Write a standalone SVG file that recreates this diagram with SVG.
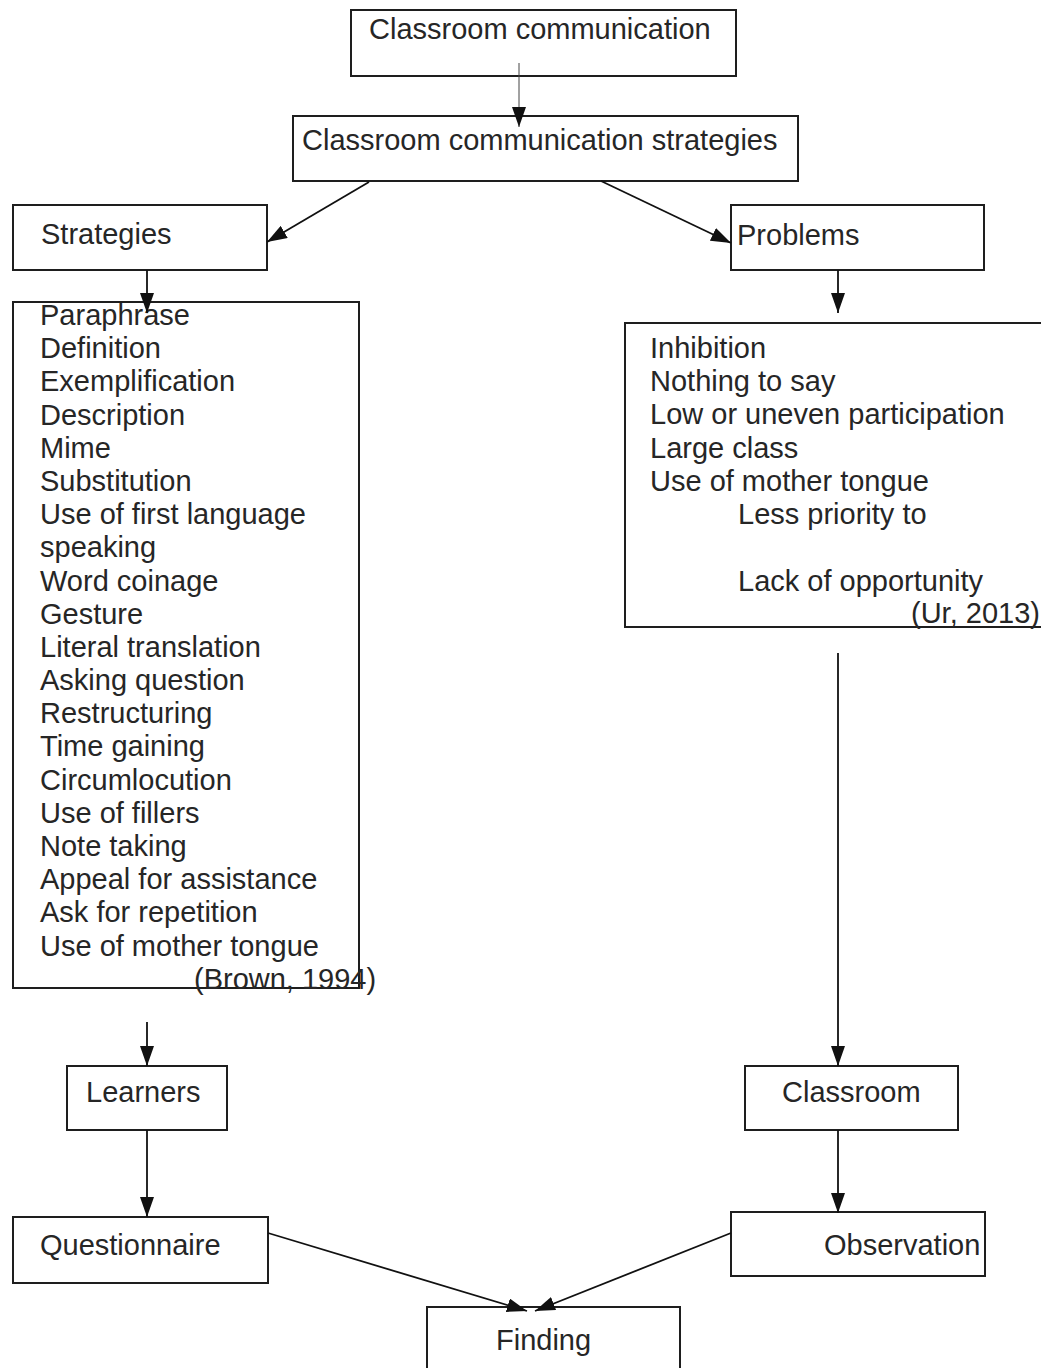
<svg xmlns="http://www.w3.org/2000/svg" width="1041" height="1368" viewBox="0 0 1041 1368">
<defs>
<marker id="ah" markerUnits="userSpaceOnUse" markerWidth="20" markerHeight="14" refX="20" refY="7" orient="auto">
<path d="M0,0 L20,7 L0,14 z" fill="#111"/>
</marker>
<style>
.box{fill:#fff;stroke:#1e1e1e;stroke-width:2}
.t{font-family:"Liberation Sans",Arial,sans-serif;font-size:29px;fill:#262626}
.c{stroke:#111;stroke-width:1.8;fill:none;marker-end:url(#ah)}
.thin{stroke:#444;stroke-width:1;fill:none;marker-end:url(#ah)}
</style>
</defs>
<rect width="1041" height="1368" fill="#fff"/>

<g id="n-classroom-communication">
<rect class="box" x="351" y="10" width="385" height="66"/>
<text class="t" x="369" y="39">Classroom communication</text>
</g>

<g id="n-strategies-top">
<rect class="box" x="293" y="116" width="505" height="65"/>
<text class="t" x="302" y="150">Classroom communication strategies</text>
</g>

<g id="n-strategies">
<rect class="box" x="13" y="205" width="254" height="65"/>
<text class="t" x="41" y="244">Strategies</text>
</g>

<g id="n-problems">
<rect class="box" x="731" y="205" width="253" height="65"/>
<text class="t" x="737" y="245">Problems</text>
</g>

<g id="n-strategy-list">
<rect class="box" x="13" y="302" width="346" height="686"/>
<text class="t" x="40" y="325">Paraphrase</text>
<text class="t" x="40" y="358">Definition</text>
<text class="t" x="40" y="391">Exemplification</text>
<text class="t" x="40" y="425">Description</text>
<text class="t" x="40" y="458">Mime</text>
<text class="t" x="40" y="491">Substitution</text>
<text class="t" x="40" y="524">Use of first language</text>
<text class="t" x="40" y="557">speaking</text>
<text class="t" x="40" y="591">Word coinage</text>
<text class="t" x="40" y="624">Gesture</text>
<text class="t" x="40" y="657">Literal translation</text>
<text class="t" x="40" y="690">Asking question</text>
<text class="t" x="40" y="723">Restructuring</text>
<text class="t" x="40" y="756">Time gaining</text>
<text class="t" x="40" y="790">Circumlocution</text>
<text class="t" x="40" y="823">Use of fillers</text>
<text class="t" x="40" y="856">Note taking</text>
<text class="t" x="40" y="889">Appeal for assistance</text>
<text class="t" x="40" y="922">Ask for repetition</text>
<text class="t" x="40" y="956">Use of mother tongue</text>
<text class="t" x="194" y="989">(Brown, 1994)</text>
</g>

<g id="n-problem-list">
<rect class="box" x="625" y="323" width="430" height="304"/>
<text class="t" x="650" y="358">Inhibition</text>
<text class="t" x="650" y="391">Nothing to say</text>
<text class="t" x="650" y="424">Low or uneven participation</text>
<text class="t" x="650" y="458">Large class</text>
<text class="t" x="650" y="491">Use of mother tongue</text>
<text class="t" x="738" y="524">Less priority to</text>
<text class="t" x="738" y="591">Lack of opportunity</text>
<text class="t" x="911" y="623">(Ur, 2013)</text>
</g>

<g id="n-learners">
<rect class="box" x="67" y="1066" width="160" height="64"/>
<text class="t" x="86" y="1102">Learners</text>
</g>

<g id="n-classroom">
<rect class="box" x="745" y="1066" width="213" height="64"/>
<text class="t" x="782" y="1102">Classroom</text>
</g>

<g id="n-questionnaire">
<rect class="box" x="13" y="1217" width="255" height="66"/>
<text class="t" x="40" y="1255">Questionnaire</text>
</g>

<g id="n-observation">
<rect class="box" x="731" y="1212" width="254" height="64"/>
<text class="t" x="824" y="1255">Observation</text>
</g>

<g id="n-finding">
<rect class="box" x="427" y="1307" width="253" height="75"/>
<text class="t" x="496" y="1350">Finding</text>
</g>

<g id="connectors">
<line class="thin" x1="519" y1="63" x2="519" y2="127"/>
<line class="c" x1="369" y1="182" x2="267" y2="242"/>
<line class="c" x1="601" y1="181" x2="731" y2="243"/>
<line class="c" x1="147" y1="270" x2="147" y2="313"/>
<line class="c" x1="838" y1="270" x2="838" y2="313"/>
<line class="c" x1="838" y1="653" x2="838" y2="1066"/>
<line class="c" x1="147" y1="1022" x2="147" y2="1066"/>
<line class="c" x1="147" y1="1130" x2="147" y2="1217"/>
<line class="c" x1="838" y1="1130" x2="838" y2="1213"/>
<line class="c" x1="268" y1="1233" x2="527" y2="1311"/>
<line class="c" x1="731" y1="1233" x2="535" y2="1311"/>
</g>
</svg>
